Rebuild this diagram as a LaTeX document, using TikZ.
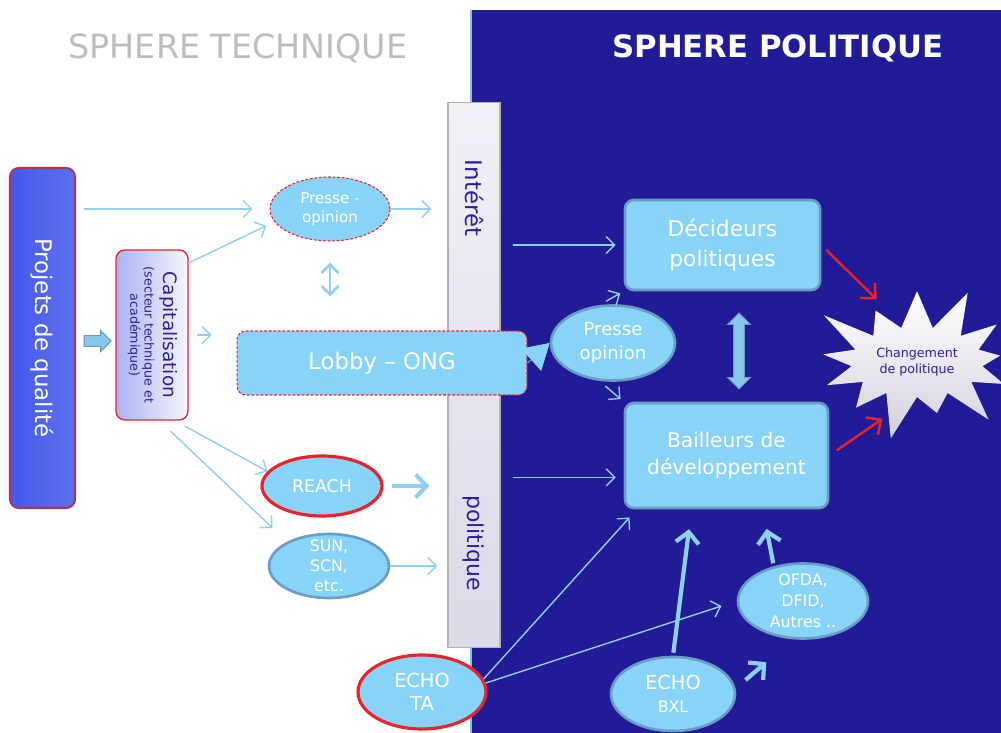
\documentclass[tikz,border=0pt]{standalone}
\usepackage{fontspec}
\usepackage{graphicx}
\setmainfont{DejaVu Sans}
\usetikzlibrary{arrows.meta,positioning,shapes.geometric,shapes.arrows,shapes.symbols}
\definecolor{night}{HTML}{211B98}
\definecolor{sky}{HTML}{88D3F8}
\definecolor{steel}{HTML}{6A9CC6}
\definecolor{wire}{HTML}{8FD0F2}
\definecolor{alert}{HTML}{E8232B}
\definecolor{ink}{HTML}{2B1FA0}
\definecolor{mist}{HTML}{BDBDBD}
\definecolor{royal}{HTML}{4358EC}
\definecolor{wine}{HTML}{A33A5E}
\definecolor{lilac}{HTML}{A9B3F6}
\definecolor{pale}{HTML}{F1F0F7}
\definecolor{dusk}{HTML}{DCD9E8}

\begin{document}
\begin{tikzpicture}[x=0.02cm,y=-0.02cm,text=white,>={Straight Barb[length=1.7mm,width=3.4mm]},
 box/.style={rounded corners=5pt,fill=sky,draw=steel,line width=1.5pt,align=center},
 bubble/.style={ellipse,fill=sky,draw=steel,line width=1.5pt,align=center,inner sep=0pt},
 hot/.style={draw=alert,line width=1.8pt},
 dashy/.style={draw=alert,dash pattern=on 1.6pt off 1pt,line width=0.6pt},
 link/.style={->,wire,line width=0.8pt},
 fatlink/.style={-{Straight Barb[length=2.2mm,width=4.6mm]},wire,line width=2.4pt},
 redlink/.style={-{Straight Barb[length=2.2mm,width=4.2mm]},alert,line width=1.4pt},
 block/.style={fill=wire!85!steel,draw=steel,line width=0.6pt,inner sep=2.8pt}]
 \useasboundingbox (0,0) rectangle (1001,733);
 % two spheres
 \fill[night] (471,10) rectangle (1001,733);
 \draw[wire!70!steel,line width=1.2pt] (471,10) -- (471,733);
 \node[text=mist,font=\fontsize{19}{23}\selectfont] (techtitle) at (238,48) {SPHERE TECHNIQUE};
 \node[font=\bfseries\fontsize{17.5}{21}\selectfont] (poltitle) at (778,48) {SPHERE POLITIQUE};
 \node[top color=pale,bottom color=dusk,draw=gray!60,line width=0.6pt,minimum width=1.04cm,minimum height=10.92cm,inner sep=0pt] (bar) at (474,375) {};
 \node[text=ink,rotate=-90,font=\fontsize{13}{15}\selectfont] (interet) at (474,198) {Intérêt};
 \node[text=ink,rotate=-90,font=\fontsize{12.5}{15}\selectfont] (politique) at (474,543) {politique};
 % technical side
 \node[rounded corners=5pt,draw=wine,line width=1.2pt,left color=royal,right color=royal!85!white,minimum width=1.3cm,minimum height=6.8cm,inner sep=0pt] (projets) at (42.5,338) {\rotatebox{-90}{\fontsize{13}{15}\selectfont Projets de qualité}};
 \node[single arrow,block,minimum height=0.54cm,single arrow head extend=0.1cm] (push) at (95,341) {};
 \node[rounded corners=5pt,draw=alert,line width=0.8pt,left color=lilac,right color=pale!60!white,minimum width=1.44cm,minimum height=3.4cm,inner sep=0pt,text=ink] (capit) at (152,335) {\rotatebox{-90}{\fontsize{7.2}{8}\selectfont\begin{tabular}{@{}c@{}}\fontsize{10.5}{12}\selectfont Capitalisation\\[3pt](secteur technique et\\académique)\end{tabular}}};
 \node[bubble,dashy,minimum width=2.4cm,minimum height=1.28cm,font=\fontsize{8.6}{10.5}\selectfont] (presseT) at (330,209) {Presse -\\opinion};
 \node[box,dashy,minimum width=5.8cm,minimum height=1.28cm,font=\fontsize{13}{15}\selectfont] (lobby) at (382,363) {Lobby -- ONG};
 \node[bubble,hot,minimum width=2.4cm,minimum height=1.2cm,font=\fontsize{9.9}{12}\selectfont] (reach) at (322,486) {REACH};
 \node[bubble,minimum width=2.4cm,minimum height=1.28cm,inner ysep=-6pt,font=\fontsize{9}{11.4}\selectfont] (sun) at (329,566) {SUN,\\SCN,\\etc.};
 \node[bubble,hot,minimum width=2.56cm,minimum height=1.48cm,font=\fontsize{11}{13}\selectfont] (echota) at (422,692) {ECHO\\TA};
 % political side
 \node[box,minimum width=3.9cm,minimum height=1.8cm,font=\fontsize{12.4}{17}\selectfont] (decid) at (722.5,245) {Décideurs\\politiques};
 \node[box,minimum width=4.06cm,minimum height=2.1cm,font=\fontsize{11.5}{15.5}\selectfont] (bail) at (726.5,455.5) {Bailleurs de\\développement};
 \node[bubble,minimum width=2.48cm,minimum height=1.5cm,font=\fontsize{10.3}{13.5}\selectfont] (presse2) at (613,343) {Presse\\opinion};
 \node[double arrow,block,rotate=90,minimum height=1.52cm,double arrow head extend=0.12cm] (updown) at (739,351) {};
 \node[starburst,starburst points=13,starburst point height=1cm,minimum width=3.8cm,minimum height=3.4cm,top color=white,bottom color=dusk!90!gray,text=ink,align=center,font=\fontsize{7.2}{9.5}\selectfont] (burst) at (917,362) {Changement\\de politique};
 \node[bubble,minimum width=2.48cm,minimum height=1.48cm,font=\fontsize{11}{13}\selectfont] (echobxl) at (673,694) {ECHO\\{\fontsize{9}{11}\selectfont BXL}};
 \node[bubble,minimum width=2.6cm,minimum height=1.5cm,inner ysep=-4pt,font=\fontsize{9}{12}\selectfont] (ofda) at (803,601) {OFDA,\\DFID,\\Autres ..};
 % links
 \draw[link,shorten <=0.16cm,shorten >=0.34cm] (projets.east |- presseT.west) -- (presseT.west);
 \draw[link,shorten >=0.18cm] (capit.63) -- (presseT.193);
 \draw[link,shorten >=0.32cm] (presseT.east) -- (presseT.east -| bar.west);
 \draw[link,<->,line width=1.6pt,shorten <=0.42cm,shorten >=0.68cm] (presseT.south) -- (presseT.south |- lobby.north);
 \draw[link,shorten <=0.16cm,shorten >=0.5cm] (capit.east) -- (capit.east -| lobby.west);
 \draw[link,shorten <=0.22cm] (capit.-75) -- (reach.165);
 \draw[link,shorten <=0.3cm,shorten >=0.4cm] (capit.-85) -- (sun.150);
 \draw[fatlink,shorten <=0.16cm,shorten >=0.36cm] (reach.east) -- (reach.east -| bar.west);
 \draw[link,shorten >=0.2cm] (sun.east) -- (sun.east -| bar.west);
 \draw[sky,line width=0.4pt,-{Triangle[length=0.5cm,width=0.6cm]}] (lobby.east) -- (presse2.west);
 \draw[link,shorten <=0.24cm,shorten >=0.16cm] (bar.east |- decid.west) -- (decid.west);
 \draw[link,shorten <=0.24cm,shorten >=0.16cm] (bar.east |- bail.192) -- (bail.192);
 \draw[link,shorten <=0.16cm,shorten >=0.08cm] (presse2.110) -- (decid.south west);
 \draw[link,shorten <=0.16cm,shorten >=0.08cm] (presse2.-110) -- (bail.north west);
 \draw[redlink,shorten <=0.14cm,shorten >=1.13cm] (decid.east) -- ([yshift=0.46cm]burst.center);
 \draw[redlink,shorten <=0.18cm,shorten >=0.84cm] (bail.east) -- ([yshift=-0.66cm]burst.center);
 \draw[link,shorten >=0.22cm] (echota.12) -- (bail.-149);
 \draw[link,shorten >=0.32cm] (echota.8) -- (ofda.west);
 \draw[fatlink,shorten <=0.06cm,shorten >=0.4cm] (echobxl.north) -- (bail.-123);
 \draw[fatlink,shorten <=0.26cm,shorten >=0.7cm] (echobxl.5) -- (ofda.-105);
 \draw[fatlink,shorten <=0.06cm,shorten >=0.4cm] (ofda.130) -- (bail.-56);
\end{tikzpicture}
\end{document}
